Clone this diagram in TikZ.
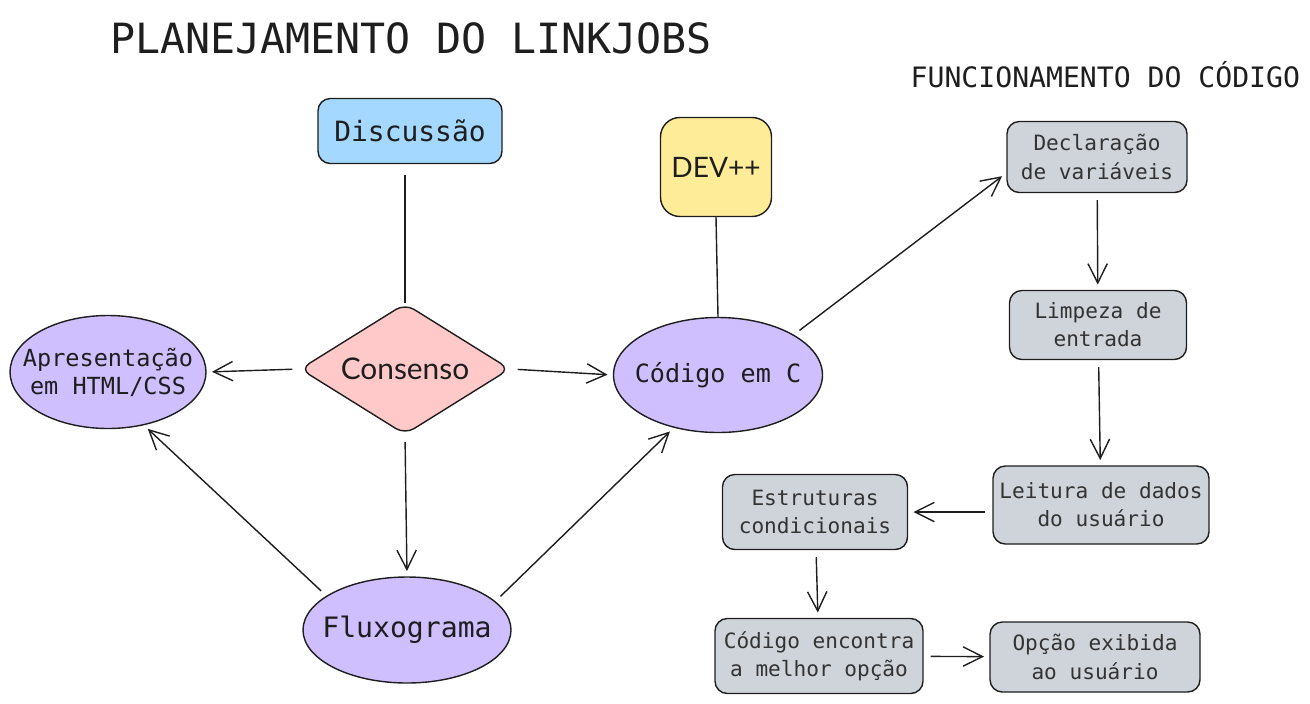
\documentclass[tikz,border=0pt]{standalone}
\usepackage{fontspec}
\setmainfont{DejaVu Sans Mono}
\newfontfamily\sansfont{Lato}
\usetikzlibrary{arrows.meta,shapes.geometric}
\definecolor{azul}{HTML}{A5D8FF}
\definecolor{amarelo}{HTML}{FFEC99}
\definecolor{rosa}{HTML}{FFC9C9}
\definecolor{roxo}{HTML}{D0BFFF}
\definecolor{cinza}{HTML}{CED4DA}
\definecolor{tinta}{HTML}{1E1E1E}

\begin{document}
\begin{tikzpicture}[x=0.02cm,y=-0.02cm,line width=0.8pt,draw=tinta,
    >={Straight Barb[length=11pt,width=11pt]},
    every node/.style={text=tinta},
    box/.style={draw,rounded corners=7pt,align=center,inner sep=0pt},
    passo/.style={box,fill=cinza,text=black!80,font=\fontsize{12}{16}\selectfont},
    bolha/.style={ellipse,draw,fill=roxo,align=center,inner xsep=-14pt,inner ysep=0pt},
    seta/.style={->,shorten >=3pt,shorten <=4pt}]
  \useasboundingbox (0,0) rectangle (1310,703);

  % titulos
  \node[anchor=base] (titulo) at (411,53) {\fontsize{23.7}{28}\selectfont PLANEJAMENTO DO LINKJOBS};
  \node[anchor=base west,inner sep=0pt] (func) at (910,87) {\fontsize{16}{20}\selectfont FUNCIONAMENTO DO CÓDIGO};

  % planejamento
  \node[box,fill=azul,minimum width=184*0.02cm,minimum height=65*0.02cm,
        font=\fontsize{15.9}{20}\selectfont] (disc) at (410,131) {Discussão};
  \node[box,fill=amarelo,rounded corners=11pt,minimum width=111*0.02cm,minimum height=99*0.02cm,
        font=\sansfont\fontsize{16}{20}\selectfont] (dev) at (716,167) {DEV++};
  \node[diamond,draw,fill=rosa,rounded corners=6pt,inner sep=0pt,aspect=1.6,
        minimum width=210*0.02cm,minimum height=131*0.02cm,
        font=\sansfont\fontsize{17}{20}\selectfont] (cons) at (405,369) {Consenso};
  \node[bolha,minimum width=196*0.02cm,minimum height=113*0.02cm,
        font=\fontsize{13.4}{16}\selectfont] (apres) at (108,372) {Apresentação\\ em HTML/CSS};
  \node[bolha,minimum width=209*0.02cm,minimum height=115*0.02cm,
        font=\fontsize{14.3}{18}\selectfont] (cod) at (718,375) {Código em C};
  \node[bolha,minimum width=208*0.02cm,minimum height=106*0.02cm,
        font=\fontsize{16}{20}\selectfont] (flux) at (407,630) {Fluxograma};

  % funcionamento do codigo
  \node[passo,minimum width=180*0.02cm,minimum height=71*0.02cm] (decl) at (1097,157) {Declaração\\de variáveis};
  \node[passo,minimum width=177*0.02cm,minimum height=69*0.02cm] (limp) at (1098,325) {Limpeza de\\entrada};
  \node[passo,minimum width=216*0.02cm,minimum height=78*0.02cm] (leit) at (1101,505) {Leitura de dados\\do usuário};
  \node[passo,minimum width=185*0.02cm,minimum height=75*0.02cm] (estr) at (815,512) {Estruturas\\condicionais};
  \node[passo,minimum width=208*0.02cm,minimum height=75*0.02cm] (melhor) at (819,656) {Código encontra\\a melhor opção};
  \node[passo,minimum width=210*0.02cm,minimum height=70*0.02cm] (opcao) at (1095,657) {Opção exibida\\ao usuário};

  % ligacoes
  \draw[shorten <=6pt] (disc.south -| cons.north) -- (cons.north);
  \draw (dev.south) -- (cod.north);
  \draw[seta] (cons.west) -- (apres.east);
  \draw[seta] (cons.east) -- (cod.west);
  \draw[seta] (cons.south) -- (flux.north);
  \draw[seta] (flux.157) -- (apres.-56);
  \draw[seta] (flux.18) -- (cod.-130);
  \draw[seta] (cod.28) -- (decl.190);
  \draw[seta] (decl) -- (limp);
  \draw[seta] (limp) -- (leit);
  \draw[seta] (leit.west |- estr.east) -- (estr.east);
  \draw[seta] (estr) -- (melhor);
  \draw[seta] (melhor) -- (opcao);
\end{tikzpicture}
\end{document}
